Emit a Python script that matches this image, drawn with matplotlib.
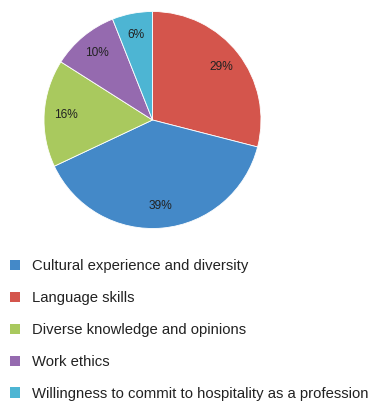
import matplotlib
matplotlib.use("Agg")
import matplotlib.pyplot as plt

# Data (legend order)
categories = ["Cultural experience and diversity", "Language skills",
              "Diverse knowledge and opinions", "Work ethics",
              "Willingness to commit to hospitality as a profession"]
values = [39, 29, 16, 10, 6]
colors = ["#4489C8", "#D4554C", "#A9C95E", "#956AAF", "#4DB5D3"]
# drawing order clockwise from 12 o'clock
draw_order = [1, 0, 2, 3, 4]

plt.rcParams['font.family'] = ['Liberation Sans', 'DejaVu Sans']

W, H = 370, 401
fig = plt.figure(figsize=(W/100, H/100), dpi=100)
cx, cy, r = 152.5, 120, 108.5
ax = fig.add_axes([(cx - r)/W, (H - cy - r)/H, 2*r/W, 2*r/H])
wedges, texts, autotexts = ax.pie(
    [values[i] for i in draw_order],
    colors=[colors[i] for i in draw_order],
    startangle=90, counterclock=False, radius=1,
    autopct=lambda p: f"{p:.0f}%", pctdistance=0.8,
    wedgeprops=dict(linewidth=0.6, edgecolor="white"),
    textprops=dict(fontsize=8.6, color="#222222"))
ax.set_xlim(-1, 1)
ax.set_ylim(-1, 1)
ax.set_aspect("equal")
ax.axis("off")

handles = [wedges[draw_order.index(i)] for i in range(len(categories))]
leg = fig.legend(handles, categories, loc="upper left",
                 bbox_to_anchor=(4/W, 1 - 253.5/H), frameon=False,
                 fontsize=10.7, handlelength=0.7, handleheight=0.7,
                 handletextpad=0.8, labelspacing=1.2, borderaxespad=0,
                 labelcolor="#222222")
for h in leg.legend_handles:
    h.set_linewidth(0)

fig.savefig("out.png", dpi=100)
